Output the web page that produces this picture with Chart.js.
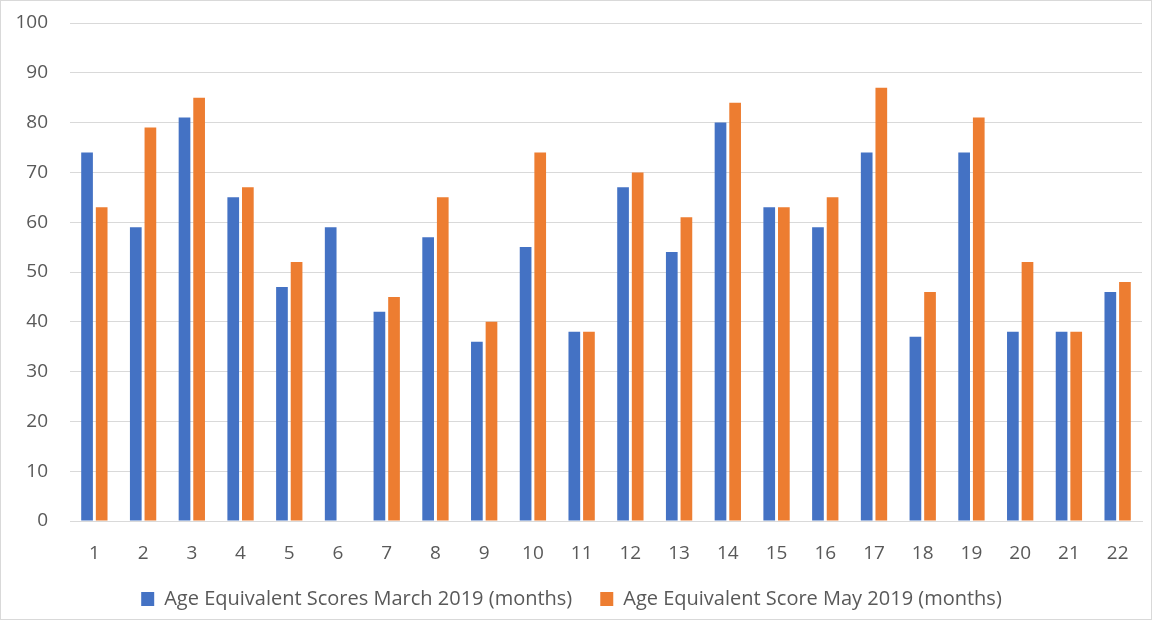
<!DOCTYPE html>
<html>
<head>
<meta charset="utf-8">
<script src="https://cdn.jsdelivr.net/npm/chart.js@4"></script>
<style>
  html, body { margin: 0; padding: 0; background: #fff; }
  #wrap { width: 1150px; height: 618px; border: 1px solid #d9d9d9; }
</style>
</head>
<body>
<div id="wrap"><canvas id="chart"></canvas></div>
<script>
const labels = ["1","2","3","4","5","6","7","8","9","10","11","12","13","14","15","16","17","18","19","20","21","22"];
const march = [74, 59, 81, 65, 47, 59, 42, 57, 36, 55, 38, 67, 54, 80, 63, 59, 74, 37, 74, 38, 38, 46];
const may = [63, 79, 85, 67, 52, null, 45, 65, 40, 74, 38, 70, 61, 84, 63, 65, 87, 46, 81, 52, 38, 48];
const yTicks = [0, 10, 20, 30, 40, 50, 60, 70, 80, 90, 100];

const family = "'Open Sans', 'Liberation Sans', sans-serif";
const tickFont = { family, size: 19 };

new Chart(document.getElementById("chart"), {
  type: "bar",
  data: {
    labels,
    datasets: [
      {
        label: "Age Equivalent Scores March 2019 (months)",
        data: march,
        backgroundColor: "#4472c4",
        categoryPercentage: 0.6,
        barPercentage: 0.8,
      },
      {
        label: "Age Equivalent Score May 2019 (months)",
        data: may,
        backgroundColor: "#ed7d31",
        categoryPercentage: 0.6,
        barPercentage: 0.8,
      },
    ],
  },
  options: {
    responsive: true,
    maintainAspectRatio: false,
    animation: false,
    layout: { padding: { left: 0, right: 9, top: 22, bottom: 0 } },
    plugins: {
      tooltip: { enabled: false },
      legend: {
        position: "bottom",
        labels: {
          boxWidth: 13,
          boxHeight: 14,
          padding: 28,
          color: "#595959",
          font: { family, size: 20 },
        },
      },
    },
    scales: {
      y: {
        min: 0,
        max: 100,
        afterBuildTicks: (axis) => { axis.ticks = yTicks.map((v) => ({ value: v })); },
        afterFit: (axis) => {
          axis.width = 69;
          axis.paddingTop = 0;
          axis.paddingBottom = 0;
        },
        border: { display: false },
        grid: { color: "#d9d9d9", drawTicks: false },
        ticks: { color: "#595959", font: tickFont, padding: 22 },
      },
      x: {
        afterFit: (axis) => { axis.height = 40; },
        border: { display: true, color: "#d9d9d9" },
        grid: { display: false },
        ticks: { color: "#595959", font: tickFont, padding: 13 },
      },
    },
  },
});
</script>
</body>
</html>
